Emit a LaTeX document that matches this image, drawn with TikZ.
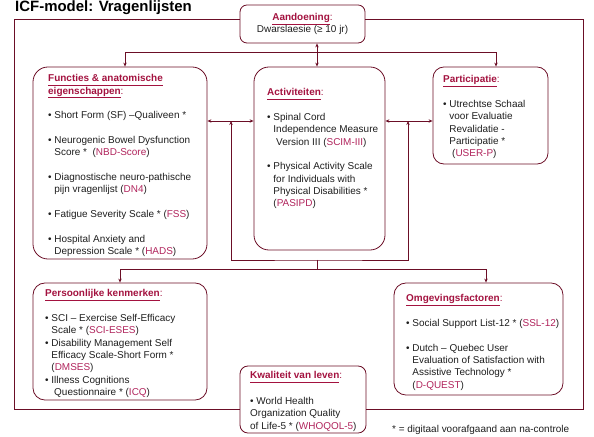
\documentclass[tikz,border=0pt]{standalone}
\usepackage{fontspec}
\setmainfont{Liberation Sans}
\usetikzlibrary{arrows.meta}
\definecolor{icfline}{HTML}{6B0E26}
\definecolor{icfhead}{HTML}{A3123F}
\definecolor{icfabbr}{HTML}{B0245C}
\definecolor{icftext}{HTML}{1E1E1E}
\newcommand{\hd}[1]{{\color{icfhead}\bfseries\underline{\vphantom{g}#1}}}
\newcommand{\hdc}[1]{\hd{#1}\textcolor{icfhead}{:}}
\newcommand{\ab}[1]{\textcolor{icfabbr}{#1}}
\newcommand{\ind}{\phantom{\textbullet\ }}
\newcommand{\gap}{\\[12.4pt]}
\newcommand{\fl}{\rule{0pt}{9bp}}
\begin{document}
\begin{tikzpicture}[x=1bp, y=-1bp, >={Stealth[length=4pt,width=3.4pt]},
  box/.style={draw=icfline, line width=0.8pt, inner sep=0pt},
  txt/.style={anchor=north west, align=left, inner sep=0pt, text=icftext, font=\fontsize{10}{12.4}\selectfont},
  link/.style={draw=icfline, line width=0.7pt}]
\useasboundingbox (0,0) rectangle (594,437);

% Title
\node[anchor=north west, inner sep=0pt, font=\fontsize{15}{18}\selectfont\bfseries] (title) at (15,0.3) {\rule{0pt}{11bp}ICF-model: Vragenlijsten};

% Aandoening (top)
\node[box, rounded corners=7, minimum width=125bp, minimum height=38bp, align=center, text=icftext, font=\fontsize{10}{12.4}\selectfont] (aand) at (302.5,24) {\hdc{Aandoening}\\Dwarslaesie (≥ 10 jr)};

% Middle row boxes
\node[box, rounded corners=15, minimum width=174bp, minimum height=192bp] (func) at (120,163) {};
\node[box, rounded corners=15, minimum width=131bp, minimum height=183bp] (acti) at (319.5,158.5) {};
\node[box, rounded corners=11, minimum width=115bp, minimum height=97bp] (part) at (490.5,115.5) {};

% Lower boxes
\node[box, rounded corners=12, minimum width=174bp, minimum height=117bp] (pers) at (120,341.5) {};
\node[box, rounded corners=12, minimum width=169bp, minimum height=112bp] (omge) at (478.5,339) {};
\node[box, rounded corners=8, minimum width=126bp, minimum height=67bp] (kwal) at (303,399.5) {};

% Box texts
\node[txt] (funcTxt) at (48,72.5) {\fl\hd{Functies \& anatomische}\\
  \hdc{eigenschappen}\gap
  \textbullet\ Short Form (SF) --Qualiveen *\gap
  \textbullet\ Neurogenic Bowel Dysfunction\\
  \ind Score *\ \ (\ab{NBD-Score})\gap
  \textbullet\ Diagnostische neuro-pathische\\
  \ind pijn vragenlijst (\ab{DN4})\gap
  \textbullet\ Fatigue Severity Scale * (\ab{FSS})\gap
  \textbullet\ Hospital Anxiety and\\
  \ind Depression Scale * (\ab{HADS})};
\node[txt] (actiTxt) at (267,86.5) {\fl\hdc{Activiteiten}\gap
  \textbullet\ Spinal Cord\\
  \ind Independence Measure\\
  \ind\ Version III (\ab{SCIM-III})\gap
  \textbullet\ Physical Activity Scale\\
  \ind for Individuals with\\
  \ind Physical Disabilities *\\
  \ind (\ab{PASIPD})};
\node[txt] (partTxt) at (443,73.5) {\fl\hdc{Participatie}\gap
  \textbullet\ Utrechtse Schaal\\
  \ind voor Evaluatie\\
  \ind Revalidatie -\\
  \ind Participatie *\\
  \ind\ (\ab{USER-P})};
\node[txt] (persTxt) at (45,287.5) {\fl\hdc{Persoonlijke kenmerken}\gap
  \textbullet\ SCI -- Exercise Self-Efficacy\\
  \ind Scale * (\ab{SCI-ESES})\\
  \textbullet\ Disability Management Self\\
  \ind Efficacy Scale-Short Form *\\
  \ind (\ab{DMSES})\\
  \textbullet\ Illness Cognitions\\
  \ind\ Questionnaire * (\ab{ICQ})};
\node[txt] (omgeTxt) at (406,292.5) {\fl\hdc{Omgevingsfactoren}\gap
  \textbullet\ Social Support List-12 * (\ab{SSL-12})\gap
  \textbullet\ Dutch -- Quebec User\\
  \ind Evaluation of Satisfaction with\\
  \ind Assistive Technology *\\
  \ind (\ab{D-QUEST})};
\node[txt] (kwalTxt) at (250,369.5) {\fl\hdc{Kwaliteit van leven}\\[13.5pt]
  \textbullet\ World Health\\
  Organization Quality\\
  of Life-5 * (\ab{WHOQOL-5})};

% Footnote
\node[txt] (note) at (392,423.5) {\fl * = digitaal voorafgaand aan na-controle};

% Outer frame (Aandoening - Kwaliteit van leven)
\coordinate (topL) at (14,19);
\coordinate (botL) at (14,409);
\coordinate (topR) at (583,19);
\coordinate (botR) at (583,409);
\draw[link] (aand.west |- topL) -- (topL) -- (botL) -- (kwal.west |- botL);
\draw[link] (aand.east |- topR) -- (topR) -- (botR) -- (kwal.east |- botR);

% Aandoening to middle row
\coordinate (hubT) at (317,52);
\draw[link, <->] (aand.south -| hubT) -- (acti.north -| hubT);
\draw[link, ->] (hubT) -| ([xshift=5bp]func.north);
\draw[link, ->] (hubT) -| ([xshift=5.5bp]part.north);

% Middle row links
\coordinate (jL) at (231,121);
\coordinate (jR) at (408,121);
\draw[link, <->] (func.east |- jL) -- (acti.west |- jL);
\draw[link, <->] (acti.east |- jR) -- (part.west |- jR);

% Bracket down to lower row
\coordinate (hubM) at (317,260);
\coordinate (hubB) at (317,269);
\draw[link, <->] (jL) |- (hubM) -| (jR);
\draw[link] (hubM) -- (hubB);
\draw[link, ->] (hubB) -| (pers.north);
\draw[link, ->] (hubB) -| ([xshift=7.5bp]omge.north);

\end{tikzpicture}
\end{document}
